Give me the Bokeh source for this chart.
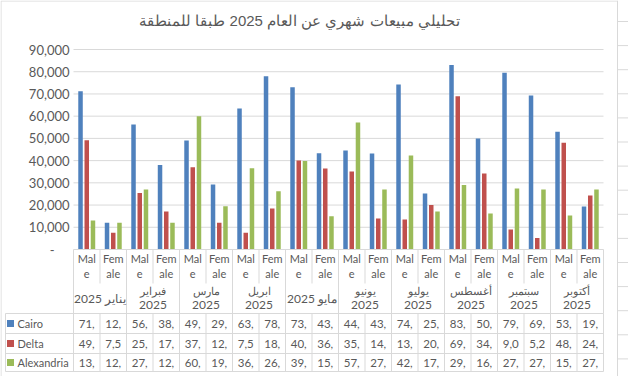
import numpy as np
from bokeh.plotting import figure
from bokeh.models import Range1d
from bokeh.core.properties import value
from bokeh.embed import file_html
from bokeh.resources import INLINE

# ---------------- data ----------------
title = "تحليلي مبيعات شهري عن العام 2025 طبقا للمنطقة"
months = ["يناير", "فبراير", "مارس", "ابريل", "مايو",
          "يونيو", "يوليو", "أغسطس", "سبتمبر", "أكتوبر"]
year = "2025"
genders = ["Male", "Female"]
series = ["Cairo", "Delta", "Alexandria"]
cairo = [71250, 12000, 56250, 38000, 49050, 29250, 63450, 78000, 73050, 43300,
         44550, 43200, 74250, 25200, 83000, 50000, 79500, 69300, 53000, 19400]
delta = [49200, 7500, 25400, 17100, 37000, 12000, 7500, 18500, 40100, 36400,
         35100, 14000, 13500, 20000, 69000, 34200, 9000, 5200, 48000, 24300]
alexandria = [13100, 12000, 27000, 12000, 60000, 19500, 36600, 26200, 39800, 15000,
              57200, 27000, 42300, 17100, 29000, 16200, 27400, 27000, 15300, 27000]
y_ticks = [0, 10000, 20000, 30000, 40000, 50000, 60000, 70000, 80000, 90000]

# ---------------- styles / layout ----------------
colors = ["#4F81BD", "#C0504D", "#9BBB59"]
TXT = "#595959"
GRID = "#D9D9D9"
FONT = value("Lato")
W, H = 628, 376
X0, CW = 73.0, 26.5          # left of category area, px per category
Y0, VPP = 249.0, 450.0       # zero baseline px, value per px
ncat = len(months) * len(genders)

p = figure(width=W, height=H, output_backend="svg", toolbar_location=None, tools="",
           x_range=Range1d(-X0 / CW, (W - X0) / CW),
           y_range=Range1d(-(H - Y0) * VPP, Y0 * VPP),
           x_axis_location=None, y_axis_location=None, min_border=0,
           background_fill_color="white", border_fill_color="white")
p.extra_x_ranges = {"px": Range1d(0, W)}
p.extra_y_ranges = {"px": Range1d(H, 0)}
p.outline_line_color = None
p.grid.visible = False

# chart border + spreadsheet cells at right
p.segment(x0=[0.5, 0.5, 617], y0=[0.5, 0.5, 0], x1=[617, 0.5, 617], y1=[0.5, H, H],
          line_color=GRID, line_width=1, x_range_name="px", y_range_name="px")
cell_y = np.arange(21, H, 24.1)
p.segment(x0=617, x1=W, y0=cell_y, y1=cell_y, line_color=GRID, line_width=1,
          x_range_name="px", y_range_name="px")

# title
p.text(x=[299], y=[20], text=[title], text_font=value("Arial"), text_font_size="15px",
       text_color=TXT, text_align="center", text_baseline="middle",
       x_range_name="px", y_range_name="px")

# gridlines
gt = [t for t in y_ticks if t > 0]
p.segment(x0=0, x1=ncat, y0=gt, y1=gt, line_color=GRID, line_width=1)

# y tick labels
p.text(x=[69] * len(gt), y=gt, text=[f"{t:,}" for t in gt], text_font=FONT,
       text_font_size="13px", text_color=TXT, text_align="right", text_baseline="middle",
       x_range_name="px")
p.text(x=[54], y=[0], text=["-"], text_font=FONT, text_font_size="13px", text_color=TXT,
       text_align="right", text_baseline="middle", x_range_name="px")

# bars
idx = np.arange(ncat) + 0.5
offs = [-0.235, 0.0, 0.235]
for vals, col, off in zip([cairo, delta, alexandria], colors, offs):
    p.vbar(x=idx + off, top=vals, bottom=0, width=0.17, fill_color=col, line_color=None)

# ---------------- category axis / data table ----------------
p.segment(x0=[0], x1=[ncat], y0=[Y0], y1=[Y0], line_color=GRID, line_width=1,
          y_range_name="px")
kb = np.arange(ncat + 1)
p.segment(x0=kb, x1=kb, y0=Y0, y1=[313 if k % 2 == 0 else 283 for k in kb],
          line_color=GRID, line_width=1, y_range_name="px")
row_edges = [313, 333, 353, 371]
p.segment(x0=5, x1=X0 + CW * ncat, y0=row_edges, y1=row_edges, line_color=GRID,
          line_width=1, x_range_name="px", y_range_name="px")
p.segment(x0=kb, x1=kb, y0=313, y1=371, line_color=GRID, line_width=1, y_range_name="px")
p.segment(x0=[5], x1=[5], y0=[313], y1=[371], line_color=GRID, line_width=1,
          x_range_name="px", y_range_name="px")

# gender labels (wrapped like the reference)
g_top = [genders[i % 2][:3] for i in range(ncat)]
g_bot = [genders[i % 2][3:] for i in range(ncat)]
for txt, yy in [(g_top, 258), (g_bot, 273)]:
    p.text(x=idx, y=[yy] * ncat, text=txt, text_font=FONT, text_font_size="11px",
           text_color=TXT, text_align="center", text_baseline="middle", y_range_name="px")

# month labels
one_line = [0, 4]
mx1, mt1, mx2, mt2 = [], [], [], []
for m, name in enumerate(months):
    c = 2 * m + 1
    if m in one_line:
        mx1.append(c); mt1.append(f"{name} {year}")
    else:
        mx2.append(c); mt2.append(name)
p.text(x=mx1, y=[298] * len(mx1), text=mt1, text_font=FONT, text_font_size="12px",
       text_color=TXT, text_align="center", text_baseline="middle", y_range_name="px")
p.text(x=mx2, y=[290] * len(mx2), text=mt2, text_font=FONT, text_font_size="11px",
       text_color=TXT, text_align="center", text_baseline="middle", y_range_name="px")
p.text(x=mx2, y=[304] * len(mx2), text=[year] * len(mx2), text_font=FONT,
       text_font_size="12px", text_color=TXT, text_align="center", text_baseline="middle",
       y_range_name="px")

# table values + legend keys
row_mid = [(a + b) / 2 for a, b in zip(row_edges[:-1], row_edges[1:])]
for vals, col, name, ym in zip([cairo, delta, alexandria], colors, series, row_mid):
    p.rect(x=[10], y=[ym], width=7, height=7, fill_color=col, line_color=None,
           x_range_name="px", y_range_name="px")
    p.text(x=[17], y=[ym], text=[name], text_font=FONT, text_font_size="11px",
           text_color=TXT, text_align="left", text_baseline="middle",
           x_range_name="px", y_range_name="px")
    p.text(x=idx, y=[ym] * ncat, text=[f"{v:,}"[:3] for v in vals], text_font=FONT,
           text_font_size="11.5px", text_color=TXT, text_align="center",
           text_baseline="middle", y_range_name="px")

open("out.html", "w").write(file_html(p, INLINE))
